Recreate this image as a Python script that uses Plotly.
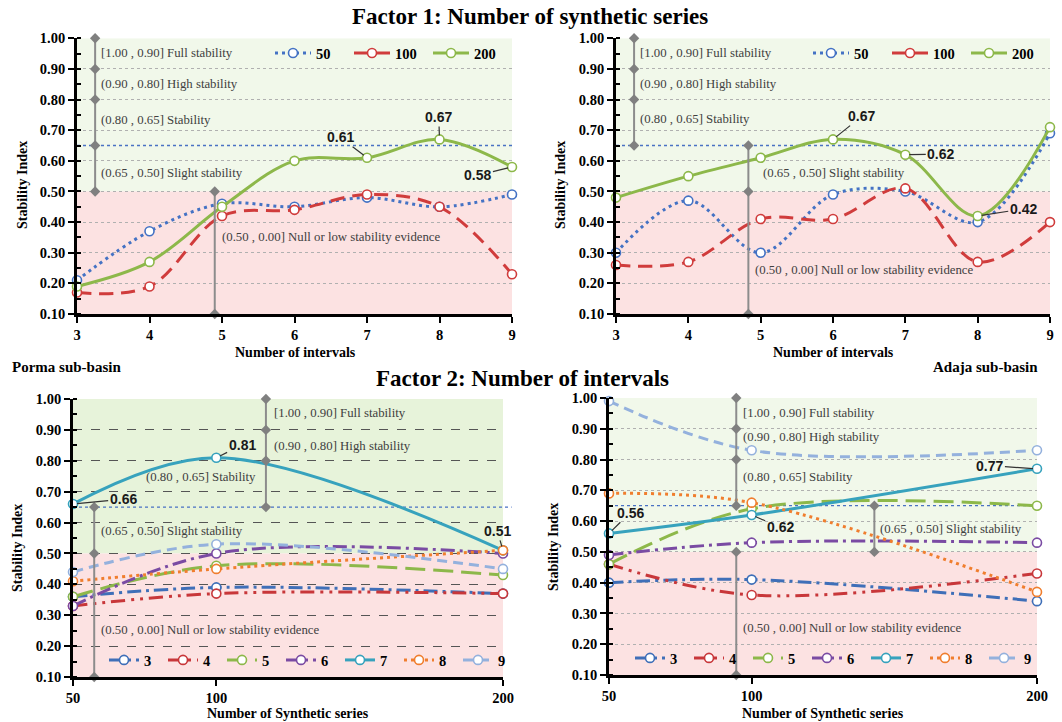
import plotly.graph_objects as go

# ---------------- data ----------------
intervals = [3, 4, 5, 6, 7, 8, 9]
synthetic = [50, 100, 200]

# Factor 1 (x = number of intervals), one series per number of synthetic series
porma_50 = [0.21, 0.37, 0.46, 0.45, 0.48, 0.45, 0.49]
porma_100 = [0.17, 0.19, 0.42, 0.44, 0.49, 0.45, 0.23]
porma_200 = [0.19, 0.27, 0.45, 0.60, 0.61, 0.67, 0.58]

adaja_50 = [0.30, 0.47, 0.30, 0.49, 0.50, 0.40, 0.69]
adaja_100 = [0.26, 0.27, 0.41, 0.41, 0.51, 0.27, 0.40]
adaja_200 = [0.48, 0.55, 0.61, 0.67, 0.62, 0.42, 0.71]

# Factor 2 (x = number of synthetic series), one series per number of intervals
porma_i3 = [0.36, 0.39, 0.37]
porma_i4 = [0.33, 0.37, 0.37]
porma_i5 = [0.36, 0.46, 0.43]
porma_i6 = [0.33, 0.50, 0.50]
porma_i7 = [0.66, 0.81, 0.51]
porma_i8 = [0.41, 0.45, 0.51]
porma_i9 = [0.44, 0.53, 0.45]

adaja_i3 = [0.40, 0.41, 0.34]
adaja_i4 = [0.46, 0.36, 0.43]
adaja_i5 = [0.46, 0.64, 0.65]
adaja_i6 = [0.49, 0.53, 0.53]
adaja_i7 = [0.56, 0.62, 0.77]
adaja_i8 = [0.69, 0.66, 0.37]
adaja_i9 = [0.99, 0.83, 0.83]

f1_names = ["50", "100", "200"]
f2_names = ["3", "4", "5", "6", "7", "8", "9"]

# stability classes
class_bounds = [1.00, 0.90, 0.80, 0.65, 0.50, 0.10]
class_labels = ["[1.00 , 0.90] Full stability", "(0.90 , 0.80] High stability",
                "(0.80 , 0.65] Stability", "(0.65 , 0.50] Slight stability",
                "(0.50 , 0.00] Null or low stability evidence"]

# ---------------- styles ----------------
SERIF = "Liberation Serif"
SANS = "Liberation Sans"
f1_style = {
    "50": ("#4472C4", "3px,4px"),
    "100": ("#D03C3C", "14px,8px"),
    "200": ("#8DB84A", "solid"),
}
f2_style = {
    "3": ("#3F6FB8", "14px,5px,3px,5px"),
    "4": ("#C8373A", "14px,6px,3px,6px,3px,6px"),
    "5": ("#8DB84A", "20px,8px"),
    "6": ("#7A4BA3", "14px,5px,3px,5px"),
    "7": ("#37A2BD", "solid"),
    "8": ("#F07E2E", "3px,4px"),
    "9": ("#94B1DD", "10px,6px"),
}

fig = go.Figure()


def add_series(x, y, name, color, dash, xa, ya, leg):
    fig.add_trace(go.Scatter(
        x=x, y=y, name=name, mode="lines+markers",
        line=dict(color=color, width=3, dash=dash, shape="spline", smoothing=1.0),
        marker=dict(symbol="circle", size=9, color="white", line=dict(color=color, width=1.6)),
        xaxis=xa, yaxis=ya, legend=leg, cliponaxis=False,
    ))


for name, vals in zip(f1_names, [porma_50, porma_100, porma_200]):
    c, d = f1_style[name]
    add_series(intervals, vals, name, c, d, "x", "y", "legend")
for name, vals in zip(f1_names, [adaja_50, adaja_100, adaja_200]):
    c, d = f1_style[name]
    add_series(intervals, vals, name, c, d, "x2", "y2", "legend2")
for name, vals in zip(f2_names, [porma_i3, porma_i4, porma_i5, porma_i6, porma_i7, porma_i8, porma_i9]):
    c, d = f2_style[name]
    add_series(synthetic, vals, name, c, d, "x3", "y3", "legend3")
for name, vals in zip(f2_names, [adaja_i3, adaja_i4, adaja_i5, adaja_i6, adaja_i7, adaja_i8, adaja_i9]):
    c, d = f2_style[name]
    add_series(synthetic, vals, name, c, d, "x4", "y4", "legend4")


# class range bars (gray vertical lines with diamond ends)
def range_bar(xpos, ylist, xa, ya):
    fig.add_trace(go.Scatter(
        x=[xpos] * len(ylist), y=ylist, mode="lines+markers", showlegend=False,
        line=dict(color="#8c8c8c", width=2),
        marker=dict(symbol="diamond", size=8, color="#808080"),
        xaxis=xa, yaxis=ya, cliponaxis=False, hoverinfo="skip",
    ))


b = class_bounds
range_bar(3.25, b[0:5], "x", "y")
range_bar(4.90, b[4:6], "x", "y")
range_bar(3.25, b[0:4], "x2", "y2")
range_bar(4.83, b[3:6], "x2", "y2")
range_bar(117.3, b[0:4], "x3", "y3")
range_bar(57.4, b[3:6], "x3", "y3")
range_bar(94.6, b[0:4], "x4", "y4")
range_bar(94.6, b[4:6], "x4", "y4")
range_bar(143.0, b[3:5], "x4", "y4")

# ---------------- layout ----------------
dom = {
    "tl": ([77 / 1062, 512 / 1062], [1 - 314 / 722, 1 - 38.3 / 722]),
    "tr": ([616 / 1062, 1050 / 1062], [1 - 314 / 722, 1 - 38.3 / 722]),
    "bl": ([73 / 1062, 503 / 1062], [1 - 677 / 722, 1 - 399 / 722]),
    "br": ([609 / 1062, 1037 / 1062], [1 - 675 / 722, 1 - 398 / 722]),
}
tickfont = dict(family=SERIF, size=14.5, color="black", weight="bold")


def xcfg(domain, anchor, rng, tickvals):
    return dict(domain=domain, anchor=anchor, range=rng, tickvals=tickvals,
                showline=True, linecolor="black", linewidth=2.8, ticks="outside",
                ticklen=6, tickwidth=2, tickcolor="black", tickfont=tickfont,
                showgrid=False, zeroline=False, automargin=False, fixedrange=True)


def ycfg(domain, anchor, gdash, gcolor, gwidth):
    return dict(domain=domain, anchor=anchor, range=[0.1, 1.0], tick0=0.1, dtick=0.1,
                tickformat=".2f", showline=True, linecolor="black", linewidth=2.8,
                ticks="outside", ticklen=6, tickwidth=2, tickcolor="black",
                tickfont=tickfont, showgrid=True, griddash=gdash, gridcolor=gcolor,
                gridwidth=gwidth, zeroline=False, automargin=False, fixedrange=True,
                minor=dict(ticks="inside", dtick=0.05, ticklen=4, tickwidth=1.5,
                           tickcolor="black", showgrid=False))


layout = dict(
    width=1062, height=722, margin=dict(l=0, r=0, t=0, b=0),
    paper_bgcolor="white", plot_bgcolor="white", showlegend=True,
    xaxis=xcfg(dom["tl"][0], "y", [3, 9], intervals),
    yaxis=ycfg(dom["tl"][1], "x", "dot", "#b0b0b0", 1),
    xaxis2=xcfg(dom["tr"][0], "y2", [3, 9], intervals),
    yaxis2=ycfg(dom["tr"][1], "x2", "dot", "#b0b0b0", 1),
    xaxis3=xcfg(dom["bl"][0], "y3", [50, 200], synthetic),
    yaxis3=ycfg(dom["bl"][1], "x3", "dash", "#555555", 1.3),
    xaxis4=xcfg(dom["br"][0], "y4", [50, 200], synthetic),
    yaxis4=ycfg(dom["br"][1], "x4", "dot", "#b0b0b0", 1),
)

legfont = dict(family=SERIF, size=14.5, color="black", weight="bold")
layout["legend"] = dict(x=270 / 1062, y=1 - 53 / 722, xanchor="left", yanchor="middle",
                        orientation="h", bgcolor="rgba(0,0,0,0)", font=legfont,
                        itemwidth=36, entrywidth=28, tracegroupgap=0)
layout["legend2"] = dict(x=808 / 1062, y=1 - 53 / 722, xanchor="left", yanchor="middle",
                         orientation="h", bgcolor="rgba(0,0,0,0)", font=legfont,
                         itemwidth=36, entrywidth=28)
layout["legend3"] = dict(x=104 / 1062, y=1 - 660 / 722, xanchor="left", yanchor="middle",
                         orientation="h", bgcolor="rgba(0,0,0,0)", font=legfont,
                         itemwidth=30, entrywidth=14)
layout["legend4"] = dict(x=630 / 1062, y=1 - 658 / 722, xanchor="left", yanchor="middle",
                         orientation="h", bgcolor="rgba(0,0,0,0)", font=legfont,
                         itemwidth=30, entrywidth=14)
fig.update_layout(**layout)

# background bands, 0.65 reference line
shapes = []
for xa, ya, green in [("x", "y", "#f1f8ea"), ("x2", "y2", "#f1f8ea"),
                      ("x3", "y3", "#e7f3da"), ("x4", "y4", "#f1f8ea")]:
    shapes.append(dict(type="rect", xref=f"{xa} domain", yref=ya, x0=0, x1=1, y0=0.5, y1=1.0,
                       fillcolor=green, line_width=0, layer="below"))
    shapes.append(dict(type="rect", xref=f"{xa} domain", yref=ya, x0=0, x1=1, y0=0.1, y1=0.5,
                       fillcolor="#fce2e2", line_width=0, layer="below"))
    shapes.append(dict(type="line", xref=f"{xa} domain", yref=ya, x0=0,
                       x1=1.02 if xa == "x3" else 1, y0=0.65, y1=0.65,
                       line=dict(color="#4a72c4", width=1.3, dash="dot"), layer="below"))
fig.update_layout(shapes=shapes)

ann = []
rtxt = dict(family=SERIF, size=12.8, color="#404040")


def rtext(x, y, i, xa, ya):
    ann.append(dict(x=x, y=y, xref=xa, yref=ya, text=class_labels[i], showarrow=False,
                    xanchor="left", yanchor="middle", font=rtxt))


# class labels
rtext(3.30, 0.952, 0, "x", "y"); rtext(3.30, 0.850, 1, "x", "y"); rtext(3.30, 0.733, 2, "x", "y")
rtext(3.30, 0.559, 3, "x", "y"); rtext(4.97, 0.350, 4, "x", "y")
rtext(3.30, 0.952, 0, "x2", "y2"); rtext(3.30, 0.850, 1, "x2", "y2"); rtext(3.30, 0.735, 2, "x2", "y2")
rtext(5.00, 0.560, 3, "x2", "y2"); rtext(4.89, 0.245, 4, "x2", "y2")
rtext(119.4, 0.955, 0, "x3", "y3"); rtext(119.4, 0.848, 1, "x3", "y3"); rtext(74.8, 0.747, 2, "x3", "y3")
rtext(59.2, 0.573, 3, "x3", "y3"); rtext(59.2, 0.252, 4, "x3", "y3")
rtext(96.2, 0.950, 0, "x4", "y4"); rtext(96.2, 0.874, 1, "x4", "y4"); rtext(96.2, 0.744, 2, "x4", "y4")
rtext(144.3, 0.575, 3, "x4", "y4"); rtext(96.2, 0.252, 4, "x4", "y4")


# value call-outs
def callout(series, idx, xs, lx, ly, xa, ya):
    ann.append(dict(x=xs[idx], y=series[idx], xref=xa, yref=ya, ax=lx, ay=ly, axref=xa, ayref=ya,
                    text=f"{series[idx]:.2f}", showarrow=True, arrowhead=0, arrowwidth=1.2,
                    arrowcolor="#333333", standoff=4,
                    font=dict(family=SANS, size=14, color="#1a1a1a", weight="bold")))


callout(porma_200, 4, intervals, 6.63, 0.677, "x", "y")
callout(porma_200, 5, intervals, 7.99, 0.743, "x", "y")
callout(porma_200, 6, intervals, 8.53, 0.553, "x", "y")
callout(adaja_200, 3, intervals, 6.40, 0.746, "x2", "y2")
callout(adaja_200, 4, intervals, 7.49, 0.622, "x2", "y2")
callout(adaja_200, 5, intervals, 8.63, 0.443, "x2", "y2")
callout(porma_i7, 1, synthetic, 109, 0.851, "x3", "y3")
callout(porma_i7, 0, synthetic, 67.5, 0.676, "x3", "y3")
callout(porma_i7, 2, synthetic, 198, 0.573, "x3", "y3")
callout(adaja_i7, 0, synthetic, 57.4, 0.627, "x4", "y4")
callout(adaja_i7, 1, synthetic, 110, 0.580, "x4", "y4")
callout(adaja_i7, 2, synthetic, 183.5, 0.780, "x4", "y4")


def ptext(text, px, py, size, xanchor="center", angle=0):
    ann.append(dict(x=px / 1062, y=1 - py / 722, xref="paper", yref="paper", text=text,
                    showarrow=False, xanchor=xanchor, yanchor="middle", textangle=angle,
                    font=dict(family=SERIF, size=size, color="black", weight="bold")))


ptext("Factor 1: Number of synthetic series", 530, 17, 23)
ptext("Factor 2: Number of intervals", 522, 378, 23)
ptext("Porma sub-basin", 10, 367, 15, "left")
ptext("Adaja sub-basin", 1040, 367, 15, "right")
ptext("Stability Index", 22, 185, 14, angle=-90)
ptext("Stability Index", 560, 185, 14, angle=-90)
ptext("Stability Index", 17, 548, 14, angle=-90)
ptext("Stability Index", 553, 547, 14, angle=-90)
ptext("Number of intervals", 295, 352, 14)
ptext("Number of intervals", 833, 352, 14)
ptext("Number of Synthetic series", 288, 713, 14)
ptext("Number of Synthetic series", 823, 713, 14)

fig.update_layout(annotations=ann)
fig.write_html("out.html")
